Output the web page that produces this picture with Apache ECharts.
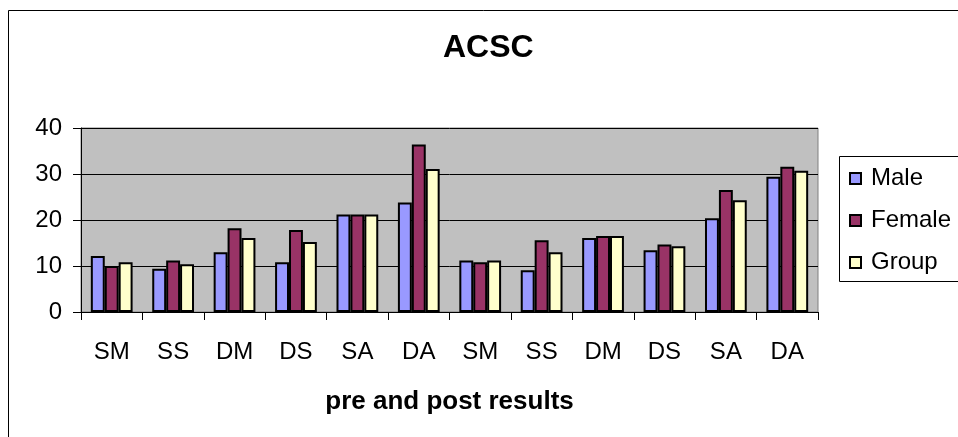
<!DOCTYPE html>
<html>
<head>
<meta charset="utf-8">
<script src="https://cdn.jsdelivr.net/npm/echarts@6/dist/echarts.min.js"></script>
<style>
html,body{margin:0;padding:0;background:#fff;}
#chart{width:958px;height:437px;}
</style>
</head>
<body>
<div id="chart"></div>
<script>
const categories = ['SM','SS','DM','DS','SA','DA','SM','SS','DM','DS','SA','DA'];
const male   = [12.2, 9.4, 13.0, 10.8, 21.2, 23.8, 11.2, 9.1, 16.1, 13.4, 20.4, 29.4];
const female = [10.0, 11.2, 18.2, 17.8, 21.2, 36.4, 10.8, 15.6, 16.5, 14.7, 26.5, 31.6];
const group  = [10.8, 10.4, 16.1, 15.2, 21.2, 31.1, 11.2, 13.0, 16.5, 14.3, 24.3, 30.7];
const seriesNames = ['Male','Female','Group'];
const yTicks = {min: 0, max: 40, interval: 10};

const FONT = '"Liberation Sans", Arial, sans-serif';
const colors = ['#9999FF','#993366','#FFFFCC'];
const chart = echarts.init(document.getElementById('chart'), null, {renderer:'canvas'});

const dataSets = [male, female, group];
const series = dataSets.map((d, i) => ({
  name: seriesNames[i],
  type: 'bar',
  data: d,
  barGap: '0%',
  barCategoryGap: '32%',
  itemStyle: {color: colors[i], borderColor: '#000', borderWidth: 2},
  emphasis: {disabled: true},
  animation: false
}));

chart.setOption({
  animation: false,
  textStyle: {fontFamily: FONT},
  title: {
    text: 'ACSC',
    left: 443, top: 32, padding: 0,
    textStyle: {fontFamily: FONT, fontSize: 32, fontWeight: 'bold', color: '#000'}
  },
  graphic: [
    {type: 'rect', shape: {x: 8.5, y: 10.5, width: 1000, height: 500}, style: {fill: 'none', stroke: '#000', lineWidth: 1}, z: -10, silent: true},
    {type: 'rect', shape: {x: 839.5, y: 156.5, width: 200, height: 125}, style: {fill: '#fff', stroke: '#000', lineWidth: 1}, z: -5, silent: true}
  ],
  legend: {
    data: seriesNames,
    orient: 'vertical',
    left: 849, top: 166.5,
    padding: 0,
    itemWidth: 11, itemHeight: 11,
    itemGap: 18,
    icon: 'rect',
    textStyle: {fontFamily: FONT, fontSize: 24, lineHeight: 24, color: '#000', padding: [0,0,0,5]},
    selectedMode: false
  },
  grid: {
    left: 81, top: 128, right: 140, bottom: 125,
    show: true, backgroundColor: '#C0C0C0', borderColor: '#808080', borderWidth: 1,
    containLabel: false
  },
  xAxis: {
    type: 'category',
    data: categories,
    name: 'pre and post results',
    nameLocation: 'middle',
    nameGap: 77,
    nameTextStyle: {fontFamily: FONT, fontSize: 26, fontWeight: 'bold', color: '#000'},
    axisLine: {show: true, lineStyle: {color: '#000', width: 1}},
    axisTick: {show: true, alignWithLabel: false, length: 8, lineStyle: {color: '#000'}},
    axisLabel: {fontFamily: FONT, fontSize: 24, color: '#000', margin: 28, interval: 0},
    splitLine: {show: false}
  },
  yAxis: {
    type: 'value',
    min: yTicks.min, max: yTicks.max, interval: yTicks.interval,
    axisLine: {show: true, lineStyle: {color: '#000', width: 1}},
    axisTick: {show: true, length: 8, lineStyle: {color: '#000'}},
    axisLabel: {fontFamily: FONT, fontSize: 24, color: '#000', margin: 19},
    splitLine: {show: true, lineStyle: {color: '#000', width: 1}}
  },
  series: series
});
</script>
</body>
</html>
